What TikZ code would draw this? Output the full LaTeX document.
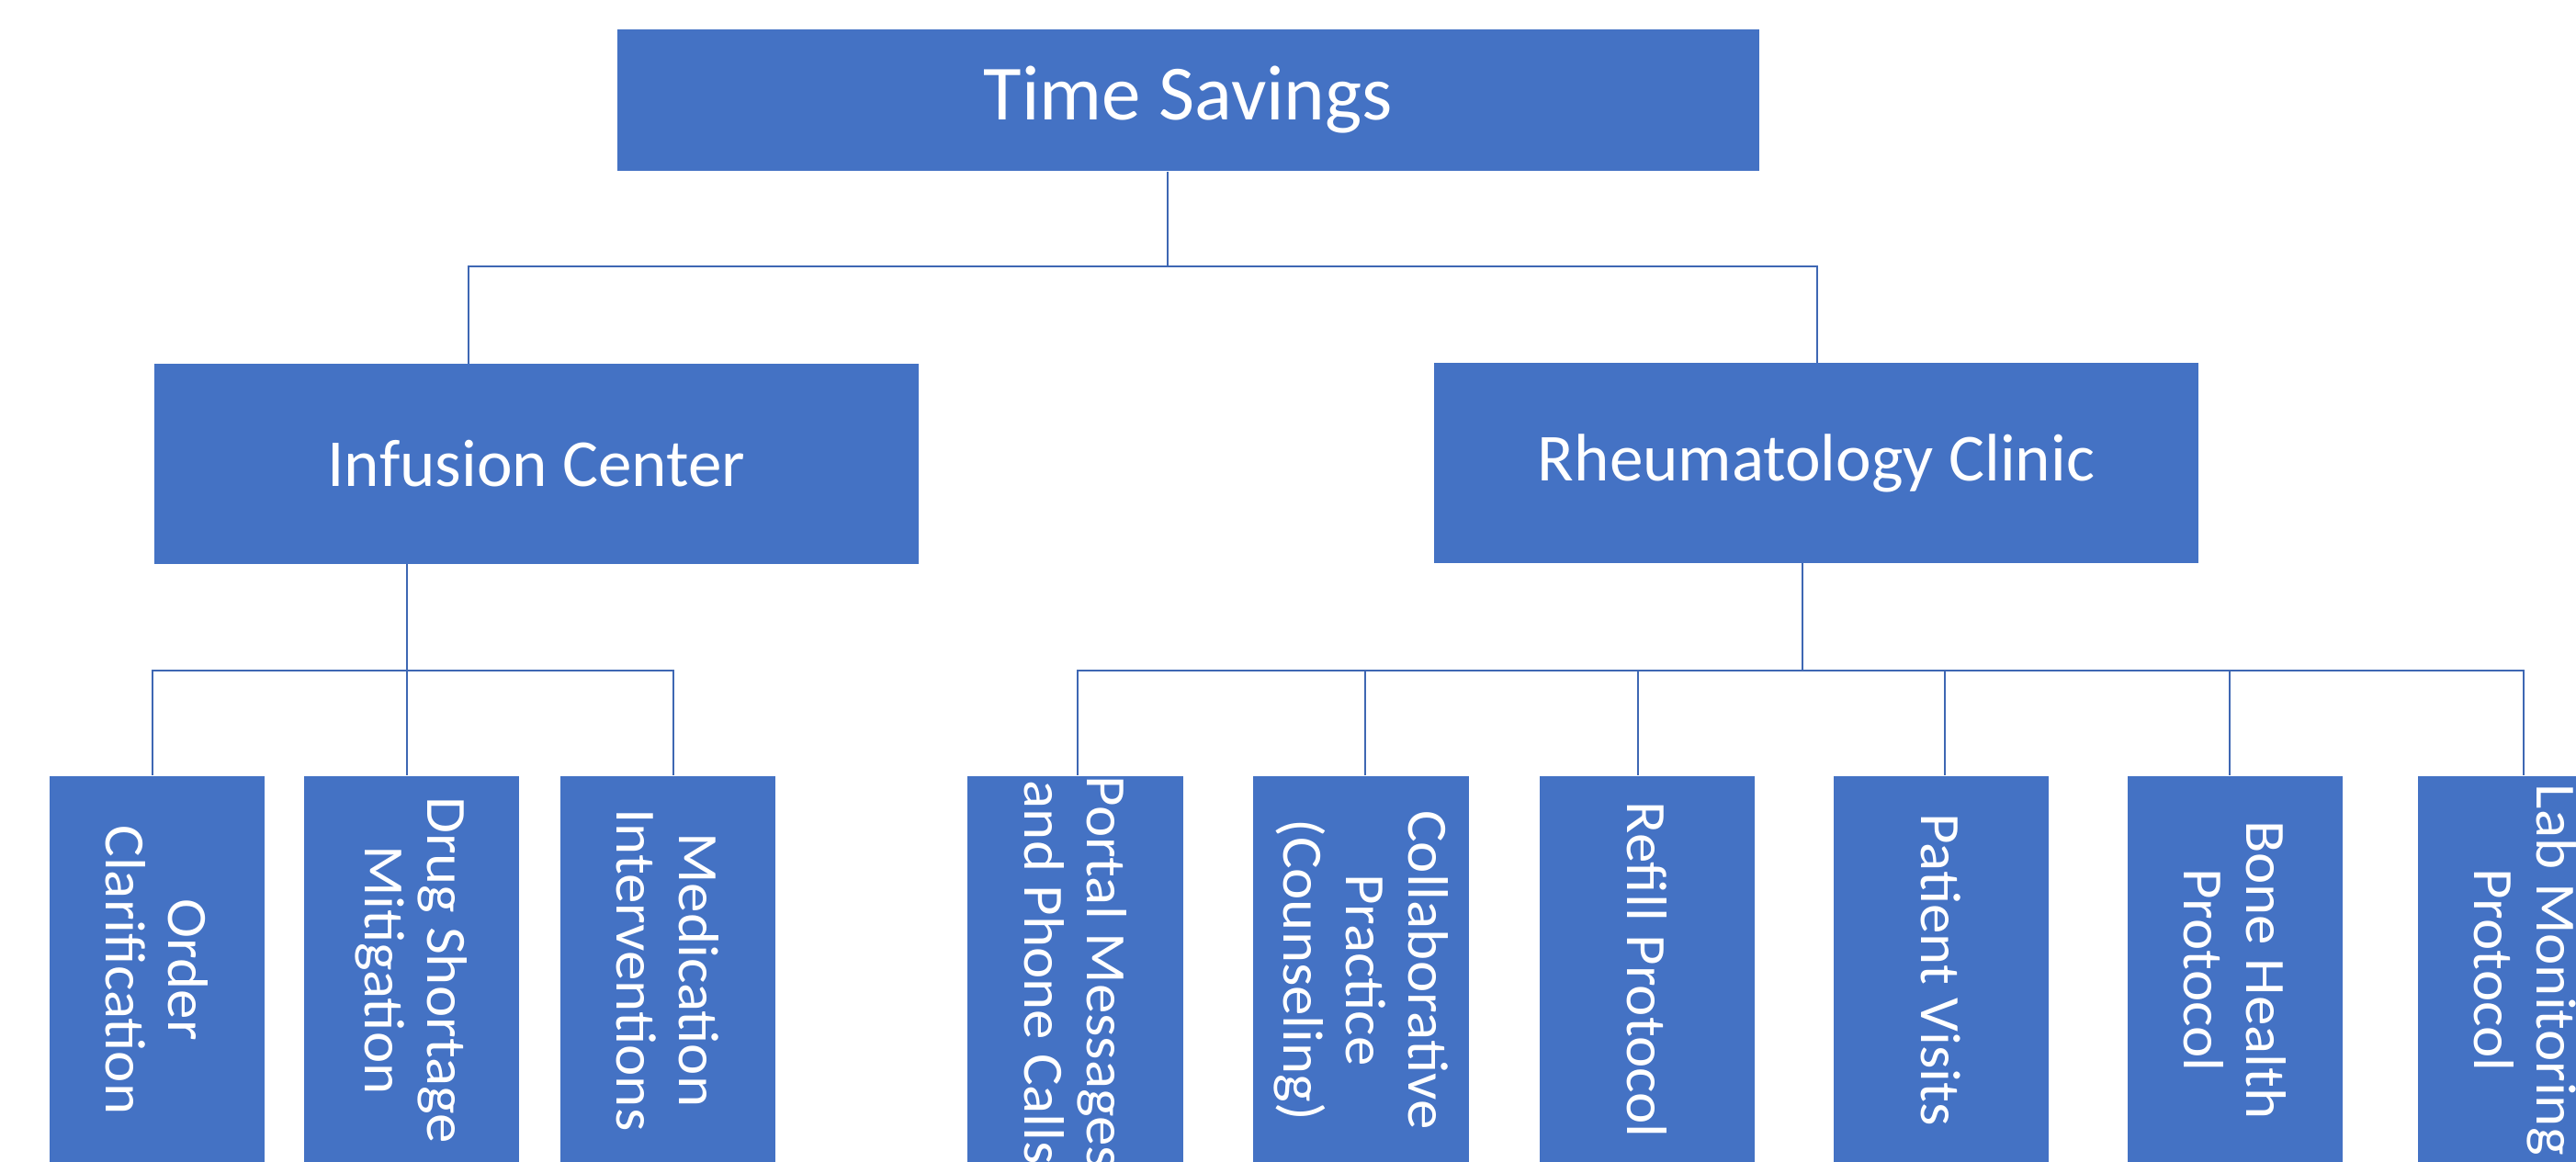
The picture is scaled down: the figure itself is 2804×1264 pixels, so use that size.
\documentclass[tikz,border=0pt]{standalone}
\usepackage{fontspec}
\setmainfont{Carlito}
\newfontfamily\leaffont[FakeStretch=1.05]{Carlito}
\definecolor{boxblue}{HTML}{4472C4}
\definecolor{lineblue}{HTML}{3E67B3}
\begin{document}
\begin{tikzpicture}[x=0.01cm,y=-0.01cm,
  box/.style={fill=boxblue, draw=none, text=white, inner sep=0pt, align=center},
  topbox/.style={box, minimum width=12.43cm, minimum height=1.54cm, font=\fontsize{24.2pt}{29pt}\selectfont},
  midbox/.style={box, minimum width=8.32cm, minimum height=2.17cm, font=\fontsize{20.8pt}{25pt}\selectfont},
  leafbox/.style={box, rotate=-90, anchor=west, minimum width=4.22cm, minimum height=2.34cm, font=\leaffont\fontsize{17.6pt}{19.3pt}\selectfont},
  conn/.style={draw=lineblue, line width=0.028cm}]
\useasboundingbox (0,0) rectangle (2804,1264);
\clip (0,0) rectangle (2804,1264);

% nodes
\node[topbox] (ts) at (1293.5,109) {Time Savings};
\node[midbox] (ic) at (584,505) {Infusion Center};
\node[midbox] (rc) at (1977,504) {Rheumatology Clinic};

% leaf boxes (anchored at their top edge)
\node[leafbox] (oc) at (171,844) {Order\\Clarification};
\node[leafbox] (ds) at (448,844) {Drug Shortage\\Mitigation};
\node[leafbox] (mi) at (727,844) {Medication\\Interventions};
\node[leafbox] (pm) at (1170.5,844) {Portal Messages\\and Phone Calls};
\node[leafbox] (cp) at (1481.5,844) {Collaborative\\Practice\\(Counseling)};
\node[leafbox] (rp) at (1793,844) {Refill Protocol};
\node[leafbox] (pv) at (2113,844) {Patient Visits};
\node[leafbox] (bh) at (2433,844) {Bone Health\\Protocol};
\node[leafbox] (lm) at (2749,844) {Lab Monitoring\\Protocol};

% junction coordinates
\coordinate (j0) at (1271,290);
\coordinate (jL) at (510,290);
\coordinate (jR) at (1978,290);
\coordinate (ja) at (443,730);
\coordinate (a1) at (166,730);
\coordinate (a3) at (733,730);
\coordinate (jb) at (1962,730);
\coordinate (b1) at (1173,730);
\coordinate (b2) at (1486,730);
\coordinate (b3) at (1783,730);
\coordinate (b4) at (2117,730);
\coordinate (b5) at (2427,730);
\coordinate (b6) at (2747,730);

% connectors
\draw[conn] (ts.south -| j0) -- (j0);
\draw[conn] (ic.north -| jL) -- (jL) -- (jR) -- (rc.north -| jR);

\draw[conn] (ic.south -| ja) -- (ja);
\draw[conn] (oc.west -| a1) -- (a1) -- (a3) -- (mi.west -| a3);
\draw[conn] (ja) -- (ds.west -| ja);

\draw[conn] (rc.south -| jb) -- (jb);
\draw[conn] (pm.west -| b1) -- (b1) -- (b6) -- (lm.west -| b6);
\draw[conn] (b2) -- (cp.west -| b2);
\draw[conn] (b3) -- (rp.west -| b3);
\draw[conn] (b4) -- (pv.west -| b4);
\draw[conn] (b5) -- (bh.west -| b5);
\end{tikzpicture}
\end{document}
